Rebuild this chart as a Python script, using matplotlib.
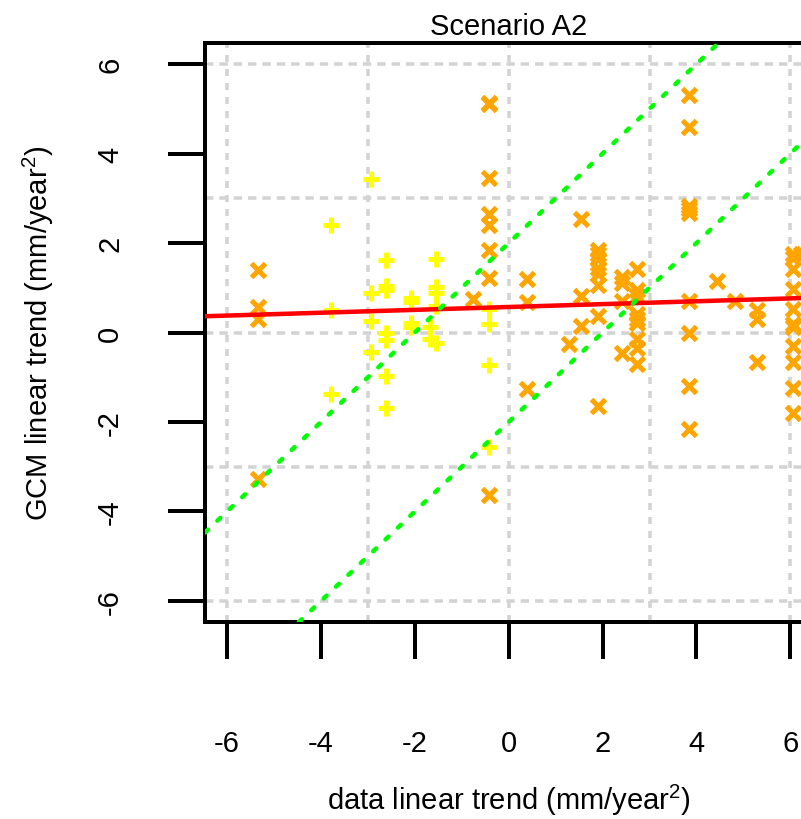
import matplotlib
matplotlib.use("Agg")
import matplotlib.pyplot as plt

plt.rcParams["font.family"] = ["Liberation Sans", "DejaVu Sans"]
plt.rcParams["mathtext.fontset"] = "custom"
plt.rcParams["mathtext.rm"] = "Liberation Sans"
plt.rcParams["axes.unicode_minus"] = False

# data trend vs GCM trend, stations shown as orange crosses
x_cross = ([-5.35] * 4 + [-0.75] + [-0.43] * 8 + [0.39] * 3 + [1.29]
           + [1.54] * 3 + [1.91] * 8 + [2.42] * 4 + [2.74] * 9
           + [3.85] * 9 + [4.43] + [4.82] + [5.28] * 3 + [6.05] * 11 + [6.22])
y_cross = [1.40, 0.58, 0.30, -3.27,
           0.75,
           5.14, 5.10, 3.45, 2.65, 2.40, 1.85, 1.22, -3.64,
           1.20, 0.68, -1.27,
           -0.25,
           2.53, 0.82, 0.15,
           1.85, 1.75, 1.64, 1.45, 1.30, 1.07, 0.37, -1.64,
           1.25, 1.10, 0.71, -0.45,
           1.42, 0.95, 0.82, 0.42, 0.30, 0.22, -0.15, -0.35, -0.71,
           5.31, 4.59, 2.83, 2.75, 2.68, 0.71, 0.00, -1.19, -2.16,
           1.16,
           0.71,
           0.50, 0.30, -0.67,
           1.75, 1.67, 1.42, 0.97, 0.52, 0.18, 0.12, -0.30, -0.67, -1.23, -1.79,
           1.75]

# second group, yellow plus signs
x_plus = ([-3.79] * 3 + [-2.94] * 4 + [-2.61] * 7 + [-2.08] * 4
          + [-1.55] * 5 + [-1.67] * 2 + [-0.41] * 4)
y_plus = [2.41, 0.50, -1.38,
          3.43, 0.88, 0.26, -0.44,
          1.62, 1.05, 0.95, 0.00, -0.16, -0.98, -1.68,
          0.78, 0.68, 0.22, 0.12,
          1.64, 1.01, 0.88, 0.60, -0.24,
          0.12, -0.15,
          0.52, 0.19, -0.73, -2.57]

# fitted trend line and the +/- 2 band around y = x
fit_intercept = 0.57
fit_slope = 0.032
band_offsets = [2, -2]

ticks = [-6, -4, -2, 0, 2, 4, 6]
grid_at = [-6, -3, 0, 3, 6]
lim = 6.47

px = 0.72  # points per pixel at dpi 100
fs = 21

fig = plt.figure(figsize=(8.01, 8.2), dpi=100)
ax = fig.add_axes([205 / 801, 197 / 820, 607.4 / 801, 579 / 820])
ax.set_xlim(-lim, lim)
ax.set_ylim(-lim, lim)

for g in grid_at:
    ax.axvline(g, color="#D3D3D3", lw=3.5 * px, linestyle=(0, (2.0, 2.0)),
               dash_capstyle="butt", zorder=1)
    ax.axhline(g, color="#D3D3D3", lw=3.5 * px, linestyle=(0, (2.4, 1.7)),
               dash_capstyle="butt", zorder=1)

ax.plot(x_cross, y_cross, linestyle="none", marker="x", ms=14 * px,
        mew=5 * px, color="#FFA500", zorder=3)
ax.plot(x_plus, y_plus, linestyle="none", marker="+", ms=16 * px,
        mew=5 * px, color="#FFFF00", zorder=3)

ax.axline((0, fit_intercept), slope=fit_slope, color="#FF0000",
          lw=4.5 * px, zorder=4)
for off in band_offsets:
    ax.axline((0, off), slope=1, color="#00FF00", lw=4.5 * px,
              linestyle=(0, (0.9, 2.9)), dash_capstyle="round", zorder=4)

for s in ax.spines.values():
    s.set_linewidth(4 * px)

ax.set_xticks(ticks)
ax.set_xticklabels([str(t) for t in ticks])
ax.set_yticks(ticks)
ax.set_yticklabels([str(t) for t in ticks], rotation=90, va="center")
ax.tick_params(direction="out", length=37 * px, width=4 * px,
               labelsize=fs)
ax.tick_params(axis="x", pad=70 * px)
ax.tick_params(axis="y", pad=44 * px)

ax.set_xlabel(r"data linear trend (mm/year$^{\mathrm{2}}$)", fontsize=fs)
ax.xaxis.set_label_coords(0.5, (623 - 800) / 579)
ax.xaxis.label.set_va("center")
ax.set_ylabel(r"GCM linear trend (mm/year$^{\mathrm{2}}$)", fontsize=fs)
ax.yaxis.set_label_coords((38 - 205) / 607.4, 0.5)
ax.yaxis.label.set_va("center")

ax.text(0.5, 1 + 17 / 579, "Scenario A2", transform=ax.transAxes,
        ha="center", va="center", fontsize=fs)

fig.savefig("out.png", dpi=100)
